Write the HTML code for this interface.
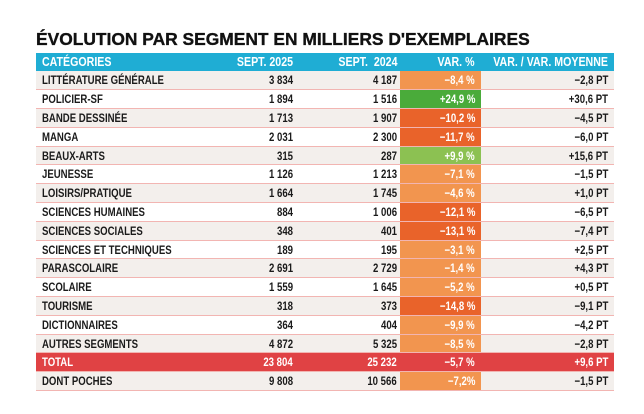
<!DOCTYPE html>
<html><head><meta charset="utf-8"><style>
body{margin:0;width:644px;height:414px;background:#fff;overflow:hidden;font-family:"Liberation Sans",sans-serif;}
h1{position:absolute;left:36px;top:29px;margin:0;font:bold 17.4px "Liberation Sans",sans-serif;color:#111;letter-spacing:0;-webkit-text-stroke:0.35px #111;}
table{position:absolute;left:36px;top:53px;border-collapse:collapse;table-layout:fixed;width:578px;}
td,th{padding:0;height:18.8px;font-size:12px;font-weight:bold;color:#1a1a1a;white-space:nowrap;border-bottom:1.5px solid #f2b5b2;box-sizing:border-box;overflow:visible;}
th{background:#1fadd4;color:#fff;height:18px;border:none;font-size:12.5px;}
span{display:inline-block;transform:scaleX(.8);transform-origin:right center;}
th span{transform:scaleX(.85);float:right}
th.l span{float:none}
.l span{transform-origin:left center}
.l{text-align:left;padding-left:6px}
.r2{text-align:right;padding-right:3px}
.r3{text-align:right;padding-right:3px}
.r4{text-align:right;padding-right:6px;color:#fff}
.r5{text-align:right;padding-right:6px}
tr.g td{background:#f3efec}
tr.w td{background:#fff}
td.lo{background:#f2954f!important}
td.do{background:#e9632a!important}
td.dg{background:#4aab3a!important}
td.lg{background:#8cc152!important}
tr.t td{background:#e04244!important;color:#fff}
</style></head><body>
<h1>ÉVOLUTION PAR SEGMENT EN MILLIERS D'EXEMPLAIRES</h1>
<table>
<colgroup><col style="width:204px"><col style="width:56px"><col style="width:104px"><col style="width:81px"><col style="width:133px"></colgroup>
<tr><th class="l"><span>CATÉGORIES</span></th><th class="r2"><span>SEPT. 2025</span></th><th class="r3"><span>SEPT.&nbsp; 2024</span></th><th class="r4"><span>VAR. %</span></th><th class="r5"><span>VAR. / VAR. MOYENNE</span></th></tr>
<tr class="g"><td class="l"><span>LITTÉRATURE GÉNÉRALE</span></td><td class="r2"><span>3 834</span></td><td class="r3"><span>4 187</span></td><td class="r4 lo"><span>−8,4 %</span></td><td class="r5"><span>−2,8 PT</span></td></tr>
<tr class="w"><td class="l"><span>POLICIER-SF</span></td><td class="r2"><span>1 894</span></td><td class="r3"><span>1 516</span></td><td class="r4 dg"><span>+24,9 %</span></td><td class="r5"><span>+30,6 PT</span></td></tr>
<tr class="g"><td class="l"><span>BANDE DESSINÉE</span></td><td class="r2"><span>1 713</span></td><td class="r3"><span>1 907</span></td><td class="r4 do"><span>−10,2 %</span></td><td class="r5"><span>−4,5 PT</span></td></tr>
<tr class="w"><td class="l"><span>MANGA</span></td><td class="r2"><span>2 031</span></td><td class="r3"><span>2 300</span></td><td class="r4 do"><span>−11,7 %</span></td><td class="r5"><span>−6,0 PT</span></td></tr>
<tr class="g"><td class="l"><span>BEAUX-ARTS</span></td><td class="r2"><span>315</span></td><td class="r3"><span>287</span></td><td class="r4 lg"><span>+9,9 %</span></td><td class="r5"><span>+15,6 PT</span></td></tr>
<tr class="w"><td class="l"><span>JEUNESSE</span></td><td class="r2"><span>1 126</span></td><td class="r3"><span>1 213</span></td><td class="r4 lo"><span>−7,1 %</span></td><td class="r5"><span>−1,5 PT</span></td></tr>
<tr class="g"><td class="l"><span>LOISIRS/PRATIQUE</span></td><td class="r2"><span>1 664</span></td><td class="r3"><span>1 745</span></td><td class="r4 lo"><span>−4,6 %</span></td><td class="r5"><span>+1,0 PT</span></td></tr>
<tr class="w"><td class="l"><span>SCIENCES HUMAINES</span></td><td class="r2"><span>884</span></td><td class="r3"><span>1 006</span></td><td class="r4 do"><span>−12,1 %</span></td><td class="r5"><span>−6,5 PT</span></td></tr>
<tr class="g"><td class="l"><span>SCIENCES SOCIALES</span></td><td class="r2"><span>348</span></td><td class="r3"><span>401</span></td><td class="r4 do"><span>−13,1 %</span></td><td class="r5"><span>−7,4 PT</span></td></tr>
<tr class="w"><td class="l"><span>SCIENCES ET TECHNIQUES</span></td><td class="r2"><span>189</span></td><td class="r3"><span>195</span></td><td class="r4 lo"><span>−3,1 %</span></td><td class="r5"><span>+2,5 PT</span></td></tr>
<tr class="g"><td class="l"><span>PARASCOLAIRE</span></td><td class="r2"><span>2 691</span></td><td class="r3"><span>2 729</span></td><td class="r4 lo"><span>−1,4 %</span></td><td class="r5"><span>+4,3 PT</span></td></tr>
<tr class="w"><td class="l"><span>SCOLAIRE</span></td><td class="r2"><span>1 559</span></td><td class="r3"><span>1 645</span></td><td class="r4 lo"><span>−5,2 %</span></td><td class="r5"><span>+0,5 PT</span></td></tr>
<tr class="g"><td class="l"><span>TOURISME</span></td><td class="r2"><span>318</span></td><td class="r3"><span>373</span></td><td class="r4 do"><span>−14,8 %</span></td><td class="r5"><span>−9,1 PT</span></td></tr>
<tr class="w"><td class="l"><span>DICTIONNAIRES</span></td><td class="r2"><span>364</span></td><td class="r3"><span>404</span></td><td class="r4 lo"><span>−9,9 %</span></td><td class="r5"><span>−4,2 PT</span></td></tr>
<tr class="g"><td class="l"><span>AUTRES SEGMENTS</span></td><td class="r2"><span>4 872</span></td><td class="r3"><span>5 325</span></td><td class="r4 lo"><span>−8,5 %</span></td><td class="r5"><span>−2,8 PT</span></td></tr>
<tr class="t"><td class="l"><span>TOTAL</span></td><td class="r2"><span>23 804</span></td><td class="r3"><span>25 232</span></td><td class="r4"><span>−5,7 %</span></td><td class="r5"><span>+9,6 PT</span></td></tr>
<tr class="g"><td class="l"><span>DONT POCHES</span></td><td class="r2"><span>9 808</span></td><td class="r3"><span>10 566</span></td><td class="r4 lo"><span>−7,2%</span></td><td class="r5"><span>−1,5 PT</span></td></tr>
</table>
</body></html>
